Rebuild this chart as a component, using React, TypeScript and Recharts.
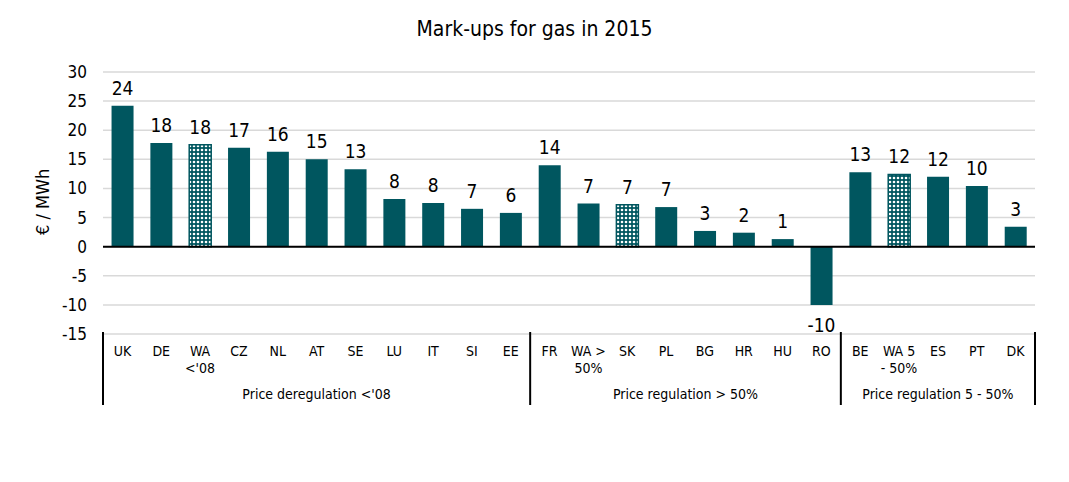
import { BarChart, Bar, XAxis, YAxis, CartesianGrid, ReferenceLine, LabelList, Cell } from "recharts"

const categories = ["UK", "DE", "WA\n<'08", "CZ", "NL", "AT", "SE", "LU", "IT", "SI", "EE", "FR", "WA >\n50%", "SK", "PL", "BG", "HR", "HU", "RO", "BE", "WA 5\n- 50%", "ES", "PT", "DK"]
const markups = [24.2, 17.8, 17.5, 17.0, 16.3, 15.0, 13.3, 8.2, 7.5, 6.5, 5.8, 14.0, 7.4, 7.2, 6.8, 2.7, 2.4, 1.3, -10.0, 12.8, 12.4, 12.0, 10.4, 3.4]
const hatched = [false, false, true, false, false, false, false, false, false, false, false, false, false, true, false, false, false, false, false, false, true, false, false, false]
const groupNames = ["Price deregulation <'08", "Price regulation > 50%", "Price regulation 5 - 50%"]
const groupSizes = [11, 8, 5]
const yTicks = [-15, -10, -5, 0, 5, 10, 15, 20, 25, 30]

const data = categories.map((c, i) => ({ name: c, value: markups[i], hatched: hatched[i] }))

const FONT = "Tahoma, 'DejaVu Sans Condensed', 'DejaVu Sans', sans-serif"
const TEAL = "#00565f"
const W = 1069
const H = 482
const MARGIN = { top: 72, right: 34, bottom: 60, left: 63 }
const Y_AXIS_W = 40
const PLOT_W = W - MARGIN.left - Y_AXIS_W - MARGIN.right
const BAND = PLOT_W / categories.length

// group starts, derived from sizes
const groupStarts = groupSizes.map((_, i) => groupSizes.slice(0, i).reduce((a, b) => a + b, 0))

const CategoryTick = (props: any) => {
  const { x, y, payload, index } = props
  const lines = String(payload.value).split("\n")
  const gi = groupStarts.indexOf(index)
  const top = y - 10
  return (
    <g>
      <text x={x} y={y + 14} textAnchor="middle" fontSize={14} fontFamily={FONT} fill="#000">
        {lines.map((l, k) => (
          <tspan key={k} x={x} dy={k === 0 ? 0 : 17}>{l}</tspan>
        ))}
      </text>
      {gi >= 0 && (
        <g>
          <line x1={x - BAND / 2} x2={x - BAND / 2} y1={top} y2={top + 73} stroke="#000" strokeWidth={2} />
          <text x={x - BAND / 2 + (groupSizes[gi] * BAND) / 2} y={y + 57} textAnchor="middle" fontSize={14} fontFamily={FONT} fill="#000">
            {groupNames[gi]}
          </text>
        </g>
      )}
      {index === categories.length - 1 && (
        <line x1={x + BAND / 2} x2={x + BAND / 2} y1={top} y2={top + 73} stroke="#000" strokeWidth={2} />
      )}
    </g>
  )
}

const ValueLabel = (props: any) => {
  const { x, y, width, height, value } = props
  const top = Math.min(y, y + height)
  const bottom = Math.max(y, y + height)
  const ty = value >= 0 ? top - 11 : bottom + 27
  return (
    <text x={x + width / 2} y={ty} textAnchor="middle" fontSize={19} fontFamily={FONT} fill="#000">
      {Math.round(value)}
    </text>
  )
}

export default function App() {
  return (
    <div style={{ position: "absolute", left: 0, top: 0, width: W, height: H, background: "#fff" }}>
      <div style={{ position: "absolute", top: 17, left: 0, width: W, textAlign: "center", fontFamily: FONT, fontSize: 21, color: "#000" }}>
        Mark-ups for gas in 2015
      </div>
      <BarChart width={W} height={H} data={data} margin={MARGIN} barCategoryGap="22%">
        <defs>
          <pattern id="checks" width="4" height="4" patternUnits="userSpaceOnUse">
            <rect width="4" height="4" fill={TEAL} />
            <circle cx="2" cy="2" r="1.3" fill="#ffffff" />
          </pattern>
        </defs>
        <CartesianGrid vertical={false} stroke="#d9d9d9" strokeWidth={1.5} />
        <XAxis
          dataKey="name"
          interval={0}
          axisLine={false}
          tickLine={false}
          height={88}
          tick={<CategoryTick />}
        />
        <YAxis
          width={Y_AXIS_W}
          domain={[-15, 30]}
          ticks={yTicks}
          axisLine={false}
          tickLine={false}
          tickMargin={10}
          tick={{ fontSize: 17, fill: "#000", fontFamily: FONT }}
          label={{ value: "€ / MWh", angle: -90, position: "insideLeft", dx: -25, dy: 32, fontSize: 18, fontFamily: FONT, fill: "#000" }}
        />
        <ReferenceLine y={0} stroke="#000" strokeWidth={2} />
        <Bar dataKey="value" isAnimationActive={false}>
          {data.map((d, i) => (
            <Cell key={i} fill={d.hatched ? "url(#checks)" : TEAL} stroke={d.hatched ? TEAL : "none"} strokeWidth={1.5} />
          ))}
          <LabelList dataKey="value" content={<ValueLabel />} />
        </Bar>
      </BarChart>
    </div>
  )
}
